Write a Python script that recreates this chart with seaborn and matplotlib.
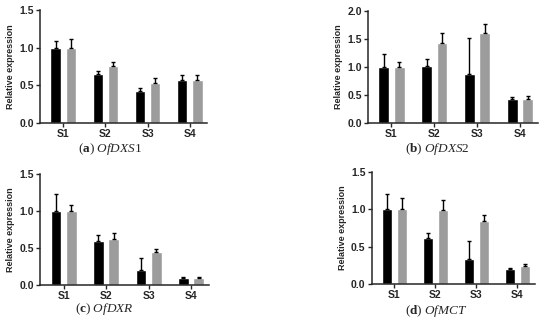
import matplotlib
matplotlib.use("Agg")
import matplotlib.pyplot as plt
import seaborn as sns
import pandas as pd
import numpy as np

stages = ["S1", "S2", "S3", "S4"]
groups = ["A", "B"]
genes = ["OfDXS1", "OfDXS2", "OfDXR", "OfMCT"]
letters = ["a", "b", "c", "d"]

# mean values (black / gray) and upper error (SD) per gene
dxs1_black = [1.00, 0.65, 0.42, 0.57]
dxs1_gray = [1.00, 0.76, 0.53, 0.57]
dxs1_black_err = [0.09, 0.04, 0.04, 0.07]
dxs1_gray_err = [0.12, 0.05, 0.06, 0.06]

dxs2_black = [1.00, 1.02, 0.88, 0.43]
dxs2_gray = [1.00, 1.43, 1.60, 0.43]
dxs2_black_err = [0.23, 0.12, 0.63, 0.04]
dxs2_gray_err = [0.08, 0.18, 0.16, 0.05]

dxr_black = [1.00, 0.60, 0.20, 0.095]
dxr_gray = [1.00, 0.62, 0.44, 0.095]
dxr_black_err = [0.23, 0.08, 0.17, 0.01]
dxr_gray_err = [0.08, 0.08, 0.05, 0.015]

mct_black = [1.00, 0.61, 0.33, 0.20]
mct_gray = [1.00, 0.985, 0.85, 0.24]
mct_black_err = [0.21, 0.075, 0.25, 0.015]
mct_gray_err = [0.15, 0.135, 0.07, 0.03]

panels = [
    (dxs1_black, dxs1_gray, dxs1_black_err, dxs1_gray_err, 1.5),
    (dxs2_black, dxs2_gray, dxs2_black_err, dxs2_gray_err, 2.0),
    (dxr_black, dxr_gray, dxr_black_err, dxr_gray_err, 1.5),
    (mct_black, mct_gray, mct_black_err, mct_gray_err, 1.5),
]

# axes rectangles and caption positions (figure fractions)
rects = [
    [0.073, 0.622, 0.304, 0.347],
    [0.669, 0.622, 0.309, 0.345],
    [0.073, 0.123, 0.307, 0.342],
    [0.676, 0.126, 0.296, 0.345],
]
captions_xy = [(0.20, 0.543), (0.795, 0.543), (0.19, 0.050), (0.793, 0.044)]

sns.set_style("ticks")
plt.rcParams["font.family"] = ["Liberation Sans", "DejaVu Sans"]
plt.rcParams["mathtext.fontset"] = "custom"
plt.rcParams["mathtext.rm"] = "Liberation Serif"
plt.rcParams["mathtext.it"] = "Liberation Serif:italic"
plt.rcParams["mathtext.bf"] = "Liberation Serif:bold"

fig = plt.figure(figsize=(5.5, 3.25), dpi=100)

for i, (blk, gry, blk_err, gry_err, ytop) in enumerate(panels):
    ax = fig.add_axes(rects[i])
    df = pd.DataFrame({
        "stage": stages * 2,
        "group": [groups[0]] * 4 + [groups[1]] * 4,
        "value": blk + gry,
    })
    sns.barplot(data=df, x="stage", y="value", hue="group", order=stages,
                hue_order=groups, palette=["#000000", "#9c9c9c"],
                errorbar=None, width=0.72, gap=0.3, legend=False, ax=ax)
    errs = blk_err + gry_err
    bars = ax.patches[:8]
    xs = [p.get_x() + p.get_width() / 2 for p in bars]
    hs = [p.get_height() for p in bars]
    ax.errorbar(xs, hs, yerr=[np.zeros(8), errs], fmt="none",
                ecolor="black", elinewidth=1.0, capsize=1.6, capthick=1.0)
    ax.set_ylim(0, ytop)
    ax.set_yticks(np.arange(0, ytop + 0.01, 0.5))
    ax.set_yticklabels([f"{v:.1f}" for v in np.arange(0, ytop + 0.01, 0.5)])
    ax.set_xlim(-0.55, 3.42)
    ax.set_xlabel("")
    ax.set_ylabel("Relative expression", fontsize=6.5, fontweight="bold")
    ax.yaxis.labelpad = 3
    for lab in ax.get_xticklabels() + ax.get_yticklabels():
        lab.set_fontweight("bold")
        lab.set_fontsize(7.5)
    ax.tick_params(axis="both", length=3, width=1.0, pad=1.5)
    for s in ["left", "bottom"]:
        ax.spines[s].set_linewidth(1.1)
    sns.despine(ax=ax)
    cx, cy = captions_xy[i]
    fig.text(cx, cy, r"$\mathrm{(}\mathbf{%s}\mathrm{)}\ \mathit{%s}$" % (letters[i], genes[i]),
             ha="center", va="center", fontsize=9.5)

fig.savefig("out.png", dpi=100)
